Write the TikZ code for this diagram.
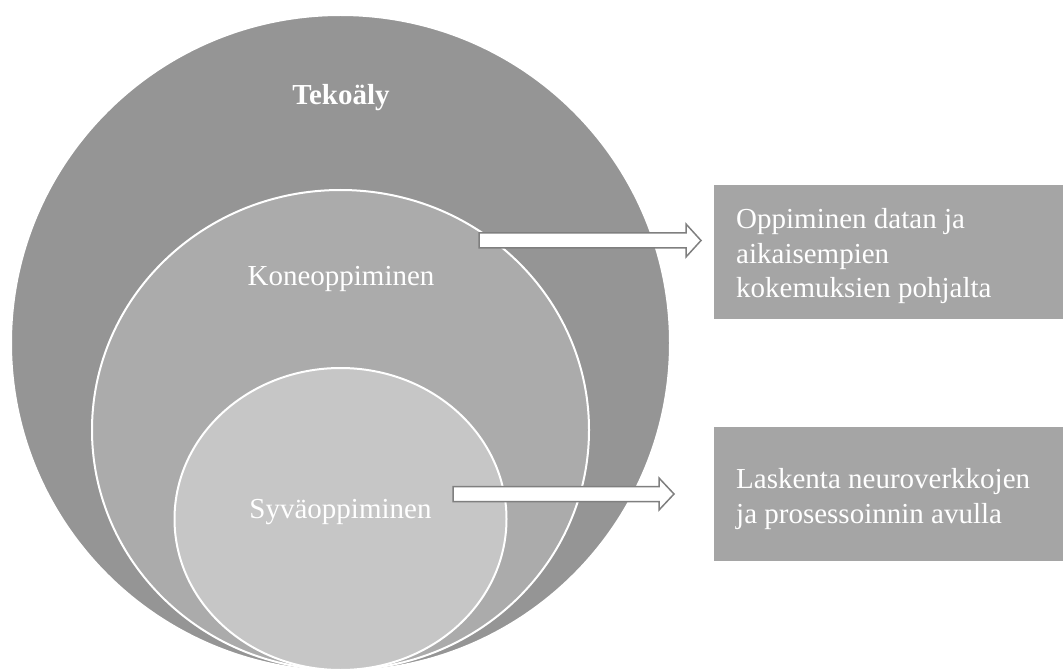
\documentclass[tikz,border=0pt]{standalone}
\usepackage{fontspec}
\setmainfont{Liberation Serif}
\usetikzlibrary{shapes.geometric,calc}
\definecolor{outerc}{HTML}{959595}
\definecolor{midc}{HTML}{ABABAB}
\definecolor{innerc}{HTML}{C6C6C6}
\definecolor{boxc}{HTML}{A5A5A5}
\definecolor{arrowc}{HTML}{7F7F7F}
\begin{document}
\begin{tikzpicture}[x=1pt,y=-1pt,
  ring/.style={ellipse, draw=white, line width=2pt, inner sep=0pt},
  lbl/.style={text=white, font=\fontsize{29}{34.5}\selectfont, inner sep=0pt, anchor=base},
  infobox/.style={rectangle, fill=boxc, draw=none, inner sep=0pt, anchor=north west,
                  minimum width=349pt, minimum height=134pt},
  infotext/.style={text=white, font=\fontsize{29}{34.5}\selectfont, align=left,
                   anchor=north west, inner sep=0pt},
  blockarrow/.style={fill=white, draw=arrowc, line width=1.5pt, line join=miter}]
\useasboundingbox (0,0) rectangle (1063,671);

% nested circles
\node[ring, fill=outerc, minimum width=659pt, minimum height=656pt] (ai) at (340.5,343) {};
\node[ring, fill=midc, minimum width=497pt, minimum height=480pt] (ml) at (340.5,430) {};
\node[ring, fill=innerc, minimum width=332pt, minimum height=302pt] (dl) at (340.5,519) {};

% circle labels
\node[lbl, font=\fontsize{29}{34.5}\selectfont\bfseries] (ailbl) at (341,105) {Tekoäly};
\node[lbl] (mllbl) at (341,285) {Koneoppiminen};
\node[lbl] (dllbl) at (340.5,518) {Syväoppiminen};

% description boxes
\node[infobox] (box1) at (714,185) {};
\node[infobox] (box2) at (714,427) {};
\node[infotext] (txt1) at (736,208.2) {Oppiminen datan ja\\aikaisempien\\kokemuksien pohjalta};
\node[infotext] (txt2) at (736,468.2) {Laskenta neuroverkkojen\\ja prosessoinnin avulla};

% block arrows
\coordinate (a1s) at (479,240.5);
\coordinate (a1e) at (701,240.5);
\coordinate (a2s) at (453,494);
\coordinate (a2e) at (674,494);
\draw[blockarrow] ($(a1s)+(0,-7.5)$) -- ($(a1e)+(-15,-7.5)$) -- ($(a1e)+(-15,-16.5)$) -- (a1e)
  -- ($(a1e)+(-15,16.5)$) -- ($(a1e)+(-15,7.5)$) -- ($(a1s)+(0,7.5)$) -- cycle;
\draw[blockarrow] ($(a2s)+(0,-7.5)$) -- ($(a2e)+(-15,-7.5)$) -- ($(a2e)+(-15,-16)$) -- (a2e)
  -- ($(a2e)+(-15,16)$) -- ($(a2e)+(-15,7.5)$) -- ($(a2s)+(0,7.5)$) -- cycle;
\end{tikzpicture}
\end{document}
